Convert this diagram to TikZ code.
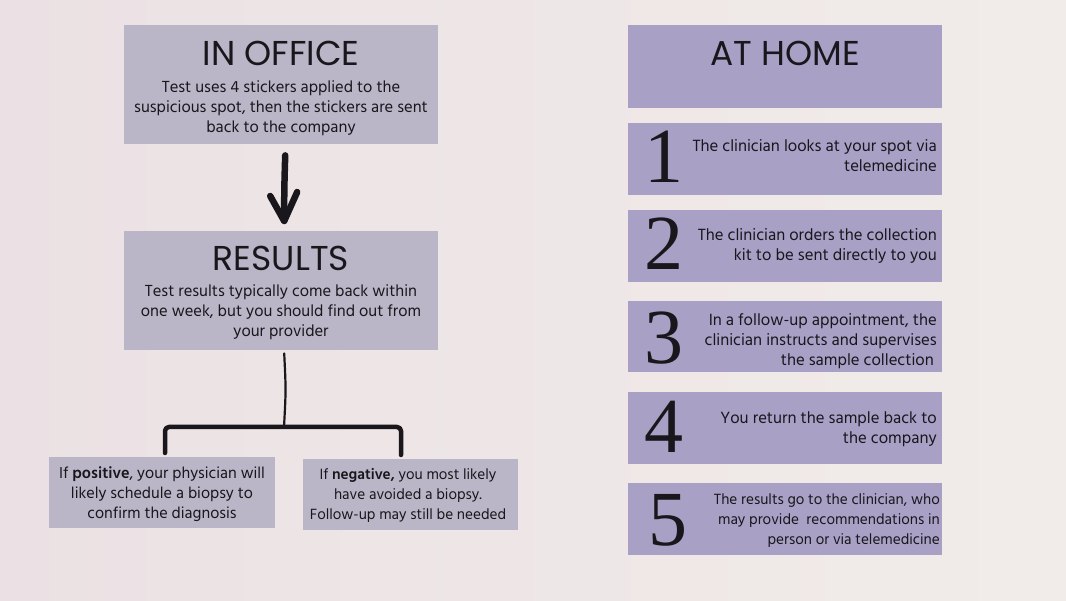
\documentclass[tikz,border=0pt]{standalone}
\usepackage{fontspec}
\setmainfont{Hind Madurai}
\newfontfamily\titlefont{Poppins}
\newfontfamily\numfont{Liberation Serif}
\usetikzlibrary{positioning,calc}
\definecolor{bgL}{RGB}{235,225,228}
\definecolor{bgR}{RGB}{241,236,233}
\definecolor{grayBox}{RGB}{186,182,199}
\definecolor{purpBox}{RGB}{169,160,198}
\definecolor{ink}{RGB}{25,22,28}
\tikzset{
  lbox/.style={fill=grayBox, draw=none, anchor=north west, inner sep=0pt},
  rbox/.style={fill=purpBox, draw=none, anchor=north west, inner sep=0pt, minimum width=314pt, minimum height=72pt},
  ttl/.style={font=\titlefont\fontsize{34.5}{38}\selectfont, text=ink, inner sep=0pt},
  body/.style={font=\fontsize{16.5}{20}\selectfont, text=ink, align=center, inner sep=0pt},
  small/.style={font=\fontsize{15.2}{20}\selectfont},
  rbody/.style={font=\fontsize{16.7}{20}\selectfont, text=ink, align=right, inner sep=0pt, anchor=east},
  num/.style={font=\numfont\fontsize{78}{78}\selectfont, text=ink, inner sep=0pt},
  hand/.style={draw=ink, line cap=round, line join=round}
}
\begin{document}
\begin{tikzpicture}[x=1pt,y=-1pt]
\shade[left color=bgL, right color=bgR] (0,0) rectangle (1066,601);
\useasboundingbox (0,0) rectangle (1066,601);

% left column
\node[lbox, minimum width=314pt, minimum height=119pt] (office) at (124,25) {};
\node[ttl] (officeT) at (281,53) {IN OFFICE};
\node[body] (officeB) at (281,108) {Test uses 4 stickers applied to the\\suspicious spot, then the stickers are sent\\back to the company};

\node[lbox, minimum width=314pt, minimum height=119pt] (results) at (124,231) {};
\node[ttl] (resultsT) at (281,258) {RESULTS};
\node[body] (resultsB) at (281,312) {Test results typically come back within\\one week, but you should find out from\\your provider};

\node[lbox, minimum width=226pt, minimum height=71pt] (pos) at (49,457) {};
\node[body, font=\fontsize{16.2}{20}\selectfont] (posB) at (162,494) {If \textbf{positive}, your physician will\\likely schedule a biopsy to\\confirm the diagnosis};

\node[lbox, minimum width=215pt, minimum height=71pt] (neg) at (303,459) {};
\node[body, small] (negB) at (408,495) {If \textbf{negative,} you most likely\\have avoided a biopsy.\\Follow-up may still be needed};

% arrow office -> results
\coordinate (a1) at ($(office.south)+(4,11)$);
\coordinate (a2) at ($(results.north)+(3,-10)$);
\draw[hand, line width=6.5pt] (a1) .. controls ($(a1)+(-1,35)$) .. (a2);
\draw[hand, line width=6.5pt] ($(a2)+(-14,-25)$) -- (a2) -- ($(a2)+(13,-29)$);

% branch results -> pos/neg
\coordinate (s0) at ($(results.south)+(3,3)$);
\coordinate (s1) at (284,427);
\draw[hand, line width=2.2pt] (s0) .. controls (286,390) .. (s1);
\draw[hand, line width=4.5pt, rounded corners=4pt] ($(pos.north -| 165,0)+(0,-4)$) -- (165,427) -- (401,427) -- ($(neg.north -| 401,0)+(0,-4)$);

% right column
\node[rbox, minimum height=83pt] (home) at (628,25) {};
\node[ttl] (homeT) at (785,53) {AT HOME};

\node[rbox] (st1) at (628,123) {};
\node[num] (n1) at (664,157) {1};
\node[rbody] (t1) at (937,156) {The clinician looks at your spot via\\telemedicine};

\node[rbox] (st2) at (628,210) {};
\node[num] (n2) at (664,244) {2};
\node[rbody] (t2) at (937,246) {The clinician orders the collection\\kit to be sent directly to you};

\node[rbox, minimum height=71pt] (st3) at (628,301) {};
\node[num] (n3) at (664,338) {3};
\node[rbody] (t3) at (937,341) {In a follow-up appointment, the\\clinician instructs and supervises\\the sample collection\hspace*{3pt}};

\node[rbox] (st4) at (628,392) {};
\node[num] (n4) at (664,427) {4};
\node[rbody] (t4) at (937,429) {You return the sample back to\\the company};

\node[rbox] (st5) at (628,483) {};
\node[num] (n5) at (668,520) {5};
\node[rbody, small] (t5) at (940,521) {The results go to the clinician, who\\may provide\ \ recommendations in\\person or via telemedicine};
\end{tikzpicture}
\end{document}
